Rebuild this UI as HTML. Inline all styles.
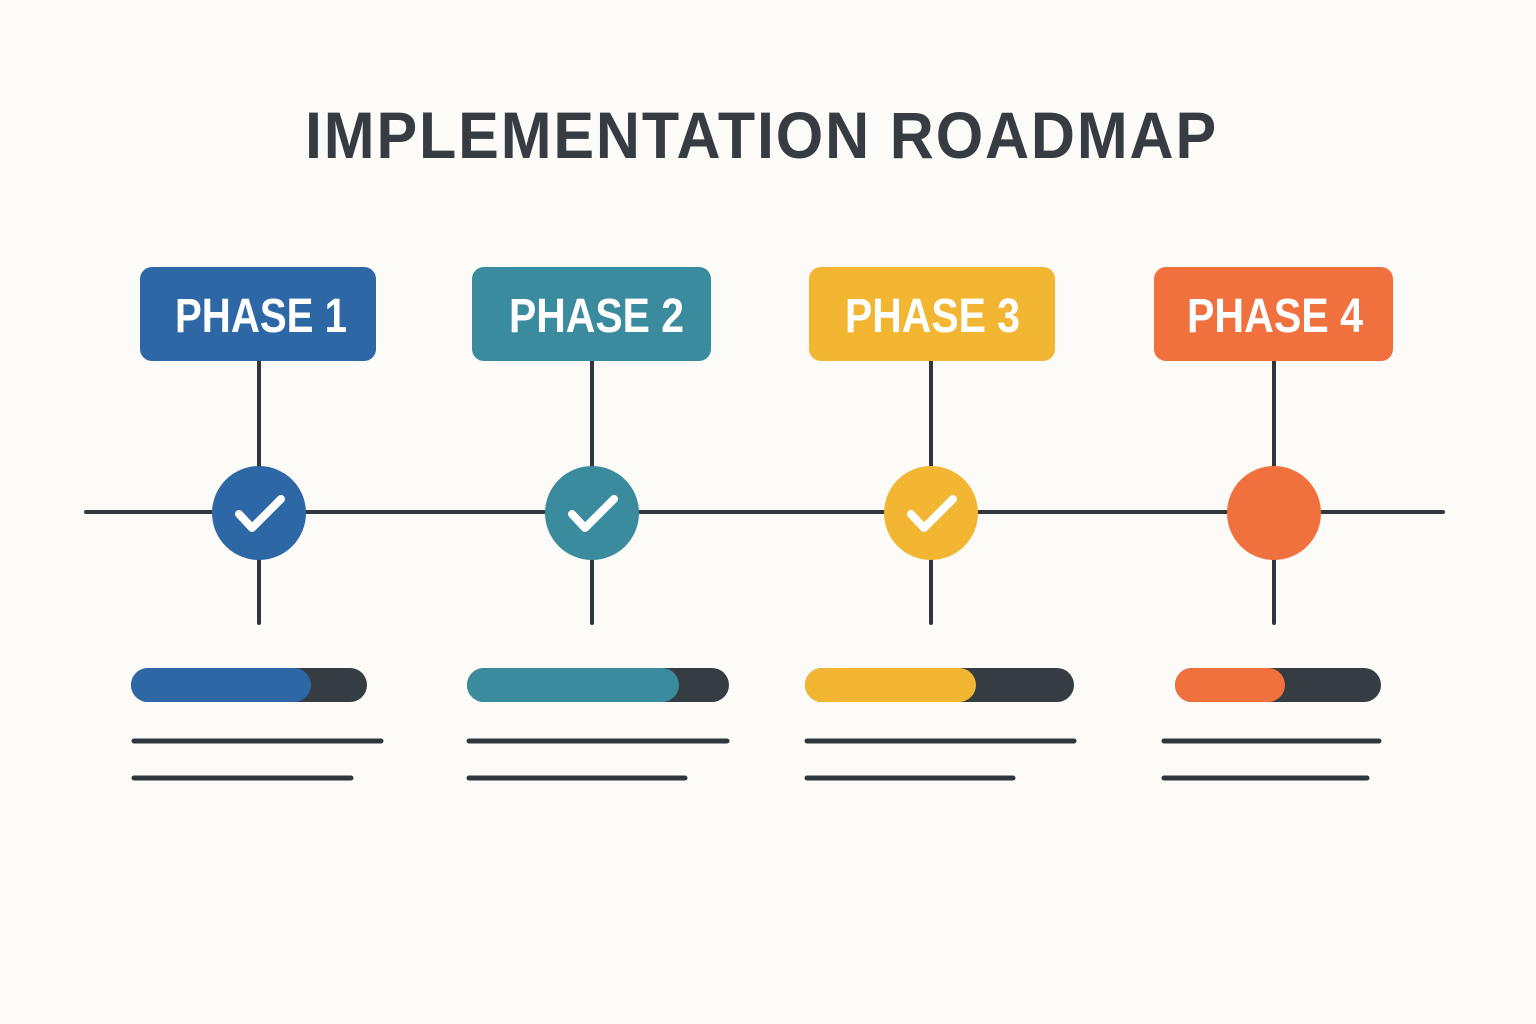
<!DOCTYPE html>
<html><head><meta charset="utf-8"><style>
html,body{margin:0;padding:0;background:#fcfbf8;}
svg{display:block}
</style></head><body>
<svg width="1536" height="1024" viewBox="0 0 1536 1024" xmlns="http://www.w3.org/2000/svg">
<rect width="1536" height="1024" fill="#fcfbf8"/>
<text x="305" y="158" font-family="Liberation Sans, sans-serif" font-weight="bold" font-size="66" fill="#363c41" letter-spacing="2" textLength="913" lengthAdjust="spacingAndGlyphs">IMPLEMENTATION ROADMAP</text>

<g stroke="#30373c" stroke-width="4" stroke-linecap="round">
<line x1="86" y1="512" x2="1443" y2="512"/>
<line x1="259" y1="361" x2="259" y2="623"/>
<line x1="592" y1="361" x2="592" y2="623"/>
<line x1="931" y1="361" x2="931" y2="623"/>
<line x1="1274" y1="361" x2="1274" y2="623"/>
</g>

<rect x="140" y="267" width="236" height="94" rx="12" fill="#2e67a6"/>
<rect x="472" y="267" width="239" height="94" rx="12" fill="#3b8b9f"/>
<rect x="809" y="267" width="246" height="94" rx="12" fill="#f2b632"/>
<rect x="1154" y="267" width="239" height="94" rx="12" fill="#f0703e"/>
<g font-family="Liberation Sans, sans-serif" font-weight="bold" font-size="48" fill="#fff">
<text x="175" y="332" textLength="172" lengthAdjust="spacingAndGlyphs">PHASE 1</text>
<text x="509" y="332" textLength="175" lengthAdjust="spacingAndGlyphs">PHASE 2</text>
<text x="845" y="332" textLength="175" lengthAdjust="spacingAndGlyphs">PHASE 3</text>
<text x="1187" y="332" textLength="176" lengthAdjust="spacingAndGlyphs">PHASE 4</text>
</g>

<circle cx="259" cy="513" r="47" fill="#2e67a6"/>
<circle cx="592" cy="513" r="47" fill="#3b8b9f"/>
<circle cx="931" cy="513" r="47" fill="#f2b632"/>
<circle cx="1274" cy="513" r="47" fill="#f0703e"/>
<g fill="none" stroke="#fff" stroke-width="8" stroke-linecap="round" stroke-linejoin="round">
<polyline points="239,514 252,528 281,499"/>
<polyline points="572,514 585,528 614,499"/>
<polyline points="911,514 924,528 953,499"/>
</g>

<g>
<rect x="131" y="668" width="236" height="34" rx="17" fill="#353c42"/>
<rect x="131" y="668" width="180" height="34" rx="17" fill="#2e67a6"/>
<rect x="467" y="668" width="262" height="34" rx="17" fill="#353c42"/>
<rect x="467" y="668" width="212" height="34" rx="17" fill="#3b8b9f"/>
<rect x="805" y="668" width="269" height="34" rx="17" fill="#353c42"/>
<rect x="805" y="668" width="171" height="34" rx="17" fill="#f2b632"/>
<rect x="1175" y="668" width="206" height="34" rx="17" fill="#353c42"/>
<rect x="1175" y="668" width="110" height="34" rx="17" fill="#f0703e"/>
</g>

<g stroke="#30373c" stroke-width="5" stroke-linecap="round">
<line x1="134" y1="741" x2="381" y2="741"/>
<line x1="134" y1="778" x2="351" y2="778"/>
<line x1="469" y1="741" x2="727" y2="741"/>
<line x1="469" y1="778" x2="685" y2="778"/>
<line x1="807" y1="741" x2="1074" y2="741"/>
<line x1="807" y1="778" x2="1013" y2="778"/>
<line x1="1164" y1="741" x2="1379" y2="741"/>
<line x1="1164" y1="778" x2="1367" y2="778"/>
</g>
</svg>
</body></html>
